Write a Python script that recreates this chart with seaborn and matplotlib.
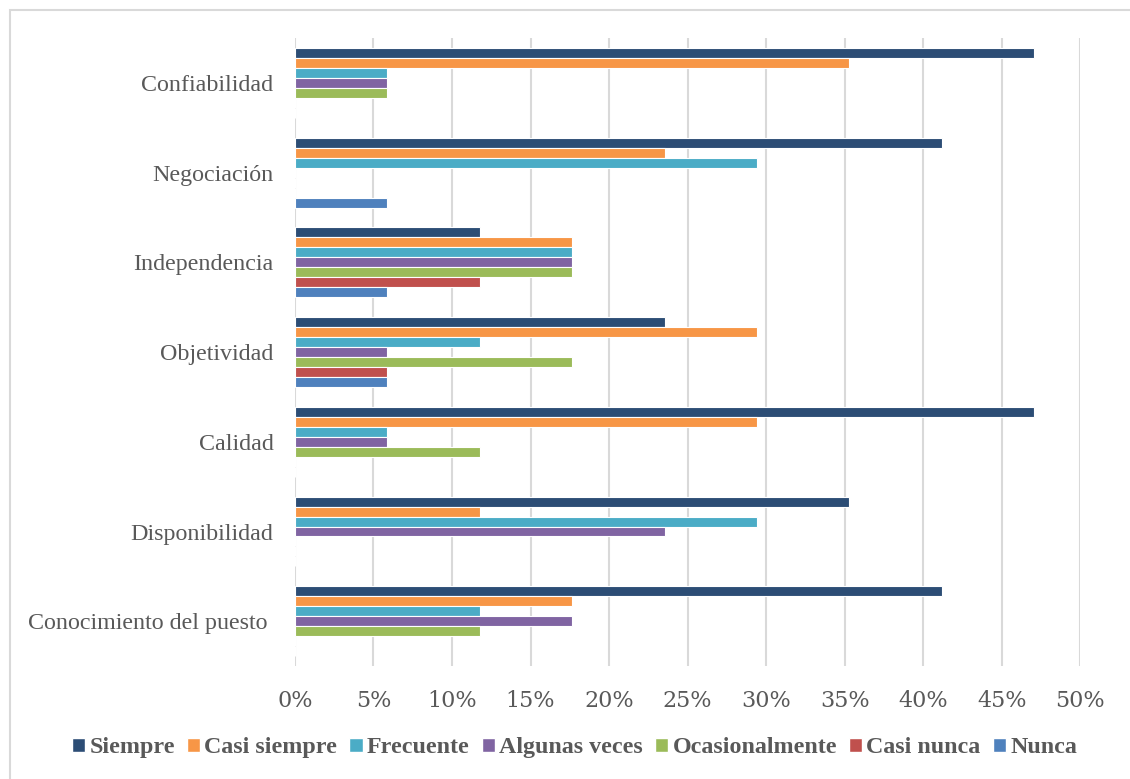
import matplotlib
matplotlib.use("Agg")
import matplotlib.pyplot as plt
import seaborn as sns
import pandas as pd
from matplotlib.patches import Rectangle

categories = ["Confiabilidad", "Negociación", "Independencia", "Objetividad",
              "Calidad", "Disponibilidad", "Conocimiento del puesto "]
series = ["Siempre", "Casi siempre", "Frecuente", "Algunas veces",
          "Ocasionalmente", "Casi nunca", "Nunca"]
colors = ["#2C4D75", "#F79646", "#4BACC6", "#8064A2", "#9BBB59", "#C0504D", "#4F81BD"]

siempre        = [47.06, 41.18, 11.76, 23.53, 47.06, 35.29, 41.18]
casi_siempre   = [35.29, 23.53, 17.65, 29.41, 29.41, 11.76, 17.65]
frecuente      = [5.88, 29.41, 17.65, 11.76, 5.88, 29.41, 11.76]
algunas_veces  = [5.88, 0.0, 17.65, 5.88, 5.88, 23.53, 17.65]
ocasionalmente = [5.88, 0.0, 17.65, 17.65, 11.76, 0.0, 11.76]
casi_nunca     = [0.0, 0.0, 11.76, 5.88, 0.0, 0.0, 0.0]
nunca          = [0.0, 5.88, 5.88, 5.88, 0.0, 0.0, 0.0]
xticks = [0, 5, 10, 15, 20, 25, 30, 35, 40, 45, 50]

values = [siempre, casi_siempre, frecuente, algunas_veces, ocasionalmente, casi_nunca, nunca]
rows = []
for s, vals in zip(series, values):
    for c, v in zip(categories, vals):
        rows.append({"Categoria": c, "Serie": s, "Valor": v})
df = pd.DataFrame(rows)

sns.set_theme(style="white")
plt.rcParams["font.family"] = ["Liberation Serif", "DejaVu Serif"]
gray = "#595959"

fig = plt.figure(figsize=(11.3, 7.79), dpi=100)
ax = fig.add_axes([0.261, 0.145, 0.956 - 0.261, 0.951 - 0.145])

sns.barplot(data=df, y="Categoria", x="Valor", hue="Serie", order=categories,
            hue_order=series, palette=colors, orient="h", width=0.78,
            saturation=1, edgecolor="white", linewidth=0.8, ax=ax, legend=False,
            errorbar=None)

ax.set_xlim(0, 50)
ax.set_xticks(xticks)
ax.set_xticklabels([f"{t}%" for t in xticks], fontsize=16, color=gray,
                   family=["DejaVu Serif"])
ax.tick_params(axis="x", length=0, pad=17)
ax.tick_params(axis="y", length=0, pad=15.5, labelsize=17.3, labelcolor=gray)
ax.set_xlabel("")
ax.set_ylabel("")
ax.grid(axis="x", color="#D9D9D9", linewidth=1.5)
ax.set_axisbelow(True)
for sp in ax.spines.values():
    sp.set_visible(False)

handles = [Rectangle((0, 0), 1, 1, facecolor=c) for c in colors]
leg = fig.legend(handles, series, loc="center", bbox_to_anchor=(0.5084, 0.04),
                 ncol=7, frameon=False, handlelength=0.55, handleheight=0.55,
                 handletextpad=0.18, columnspacing=0.5,
                 prop={"family": ["Liberation Serif"], "weight": "bold", "size": 17.3})
for t in leg.get_texts():
    t.set_color(gray)

fig.patches.append(Rectangle((10 / 1130, -20 / 779), 1140 / 1130, 789 / 779,
                             transform=fig.transFigure, fill=False,
                             edgecolor="#D9D9D9", linewidth=1.5))

fig.savefig("out.png", dpi=100)
